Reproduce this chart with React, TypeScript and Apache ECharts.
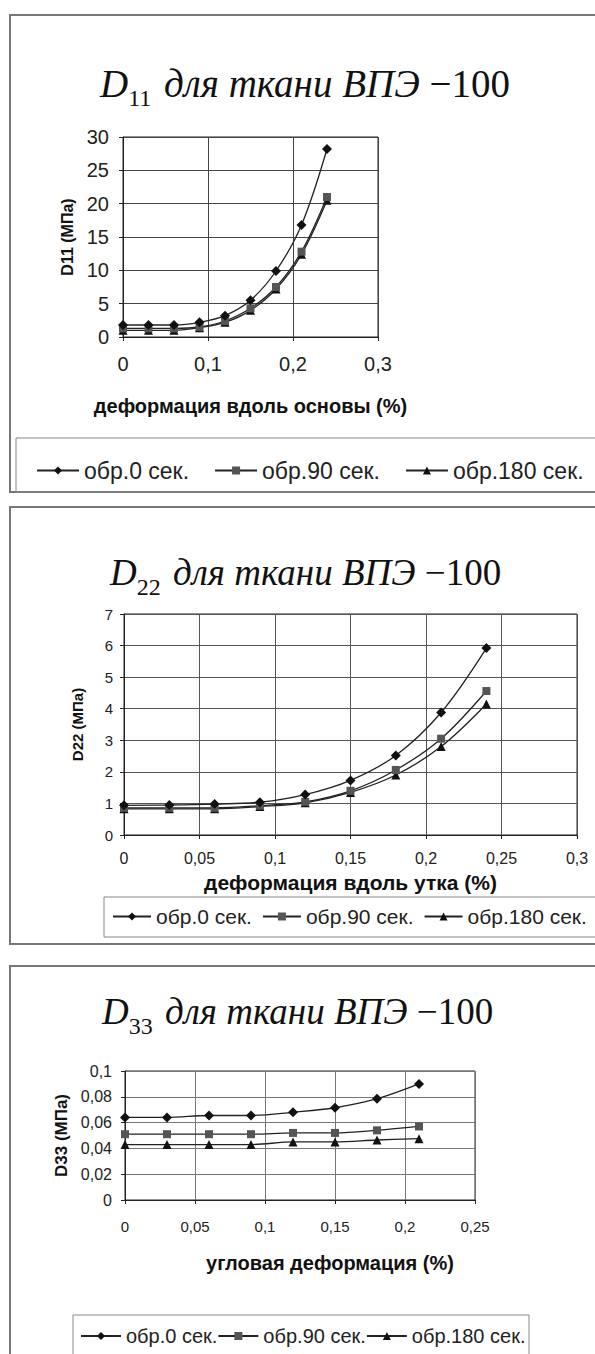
import React, { useEffect, useRef } from "react";
import * as echarts from "echarts";

const seriesNames = ["обр.0 сек.", "обр.90 сек.", "обр.180 сек."];

const xVals12 = [0, 0.03, 0.06, 0.09, 0.12, 0.15, 0.18, 0.21, 0.24];
const d11_0 = [1.8, 1.8, 1.8, 2.2, 3.2, 5.5, 9.9, 16.8, 28.2];
const d11_90 = [1.3, 1.3, 1.3, 1.5, 2.4, 4.3, 7.5, 12.8, 21.0];
const d11_180 = [1.0, 1.0, 1.0, 1.4, 2.2, 4.0, 7.2, 12.4, 20.5];

const d22_0 = [0.94, 0.95, 0.98, 1.04, 1.28, 1.73, 2.52, 3.88, 5.92];
const d22_90 = [0.86, 0.86, 0.86, 0.93, 1.05, 1.4, 2.06, 3.05, 4.56];
const d22_180 = [0.83, 0.83, 0.83, 0.9, 1.02, 1.35, 1.9, 2.8, 4.15];

const xVals3 = [0, 0.03, 0.06, 0.09, 0.12, 0.15, 0.18, 0.21];
const d33_0 = [0.064, 0.064, 0.0655, 0.0655, 0.068, 0.0715, 0.0785, 0.09];
const d33_90 = [0.051, 0.051, 0.051, 0.051, 0.052, 0.052, 0.054, 0.057];
const d33_180 = [0.043, 0.043, 0.043, 0.043, 0.045, 0.045, 0.0465, 0.0475];

const titles = [
  { sub: "11", x: 100, y: 56, fs: 39 },
  { sub: "22", x: 110, y: 545, fs: 37 },
  { sub: "33", x: 102, y: 984, fs: 37 },
];

const SANS = "Liberation Sans";
const SERIF = "Liberation Serif";

const fmt = (v: number) => String(+v.toFixed(4)).replace(".", ",");

export default function App() {
  const ref = useRef<HTMLDivElement>(null);
  useEffect(() => {
    if (!ref.current) return;
    const chart = echarts.init(ref.current, null, { renderer: "svg" });

    const grids = [
      { left: 123, top: 137, width: 255, height: 200 },
      { left: 124, top: 614, width: 453, height: 221 },
      { left: 125, top: 1071, width: 350, height: 129 },
    ];
    const gridColors = ["#444", "#555", "#777"];

    const xAxes = [
      { min: 0, max: 0.3, interval: 0.1, name: "деформация вдоль основы (%)", nameGap: 59, labelMargin: 17, fs: 20, nameFs: 20, pad: [0, 0, 0, 0] },
      { min: 0, max: 0.3, interval: 0.05, name: "деформация вдоль утка (%)", nameGap: 37, labelMargin: 15, fs: 16, nameFs: 21, pad: [0, 0, 0, 0] },
      { min: 0, max: 0.25, interval: 0.05, name: "угловая деформация (%)", nameGap: 53, labelMargin: 19, fs: 15, nameFs: 20, pad: [0, 0, 0, 60] },
    ].map((a, i) => ({
      type: "value",
      gridIndex: i,
      min: a.min,
      max: a.max,
      interval: a.interval,
      name: a.name,
      nameLocation: "middle",
      nameGap: a.nameGap,
      nameTextStyle: { fontFamily: SANS, fontWeight: "bold", fontSize: a.nameFs, color: "#111", padding: a.pad },
      axisLine: { show: true, lineStyle: { color: "#222", width: 1 } },
      axisTick: { show: true, length: 4, lineStyle: { color: "#222" } },
      axisLabel: { fontFamily: SANS, fontSize: a.fs, color: "#222", margin: a.labelMargin, formatter: fmt },
      splitLine: { show: true, lineStyle: { color: gridColors[i], width: 1 } },
    }));

    const yAxes = [
      { min: 0, max: 30, interval: 5, name: "D11 (МПа)", nameGap: 48, labelMargin: 14, fs: 20, nameFs: 16 },
      { min: 0, max: 7, interval: 1, name: "D22 (МПа)", nameGap: 39, labelMargin: 11, fs: 15, nameFs: 15 },
      { min: 0, max: 0.1, interval: 0.02, name: "D33 (МПа)", nameGap: 55, labelMargin: 13, fs: 16, nameFs: 17 },
    ].map((a, i) => ({
      type: "value",
      gridIndex: i,
      min: a.min,
      max: a.max,
      interval: a.interval,
      name: a.name,
      nameLocation: "middle",
      nameRotate: 90,
      nameGap: a.nameGap,
      nameTextStyle: { fontFamily: SANS, fontWeight: "bold", fontSize: a.nameFs, color: "#111" },
      axisLine: { show: true, lineStyle: { color: "#222", width: 1 } },
      axisTick: { show: true, length: 4, lineStyle: { color: "#222" } },
      axisLabel: { fontFamily: SANS, fontSize: a.fs, color: "#222", margin: a.labelMargin, formatter: fmt },
      splitLine: { show: true, lineStyle: { color: gridColors[i], width: 1 } },
    }));

    const panels = [
      { xs: xVals12, ys: [d11_0, d11_90, d11_180] },
      { xs: xVals12, ys: [d22_0, d22_90, d22_180] },
      { xs: xVals3, ys: [d33_0, d33_90, d33_180] },
    ];
    const symbols = ["diamond", "rect", "triangle"];
    const symSizes = [10, 8, 9];
    const symColors = ["#111", "#555", "#111"];

    const series: any[] = [];
    panels.forEach((p, pi) => {
      p.ys.forEach((ys, si) => {
        series.push({
          type: "line",
          name: seriesNames[si],
          xAxisIndex: pi,
          yAxisIndex: pi,
          data: p.xs.map((x, k) => [x, ys[k]]),
          smooth: 0.35,
          symbol: symbols[si],
          symbolSize: symSizes[si],
          showSymbol: true,
          lineStyle: { color: "#222", width: 1.3 },
          itemStyle: { color: symColors[si], borderWidth: 0 },
          z: 3 - si,
        });
      });
    });

    const legendBase = {
      data: seriesNames,
      orient: "horizontal",
      padding: 0,
      itemHeight: 10,
      selectedMode: false,
    };

    const legends = [
      { ...legendBase, left: 36, top: 459, itemGap: 25, itemWidth: 42, textStyle: { fontFamily: SANS, fontSize: 23, color: "#222" } },
      { ...legendBase, left: 112, top: 906, itemGap: 10, itemWidth: 38, textStyle: { fontFamily: SANS, fontSize: 21, color: "#222" } },
      { ...legendBase, left: 80, top: 1326, itemGap: 0, itemWidth: 40, textStyle: { fontFamily: SANS, fontSize: 20, color: "#222" } },
    ];

    const rect = (x: number, y: number, w: number, h: number, color: string, lw: number) => ({
      type: "rect",
      shape: { x, y, width: w, height: h },
      style: { fill: "none", stroke: color, lineWidth: lw },
      silent: true,
      z: -1,
    });

    const titleGraphics = titles.map((t) => ({
      type: "text",
      x: t.x,
      y: t.y,
      style: {
        text: `{i|D}{s|${t.sub}}{i| для ткани ВПЭ}{n| −100}`,
        rich: {
          i: { fontFamily: SERIF, fontStyle: "italic", fontSize: t.fs, fill: "#111" },
          s: { fontFamily: SERIF, fontSize: 24, fill: "#111", padding: [30, 3, 0, 0] },
          n: { fontFamily: SERIF, fontSize: t.fs, fill: "#111" },
        },
      },
    }));

    chart.setOption({
      animation: false,
      backgroundColor: "#fff",
      grid: grids.map((g) => ({ ...g, show: true, borderColor: "#222", borderWidth: 1, backgroundColor: "transparent" })),
      xAxis: xAxes,
      yAxis: yAxes,
      series,
      legend: legends,
      graphic: [
        rect(10, 15, 600, 477, "#777", 2),
        rect(16, 438, 600, 54, "#888", 1),
        rect(10, 507, 600, 437, "#777", 2),
        rect(104, 897, 500, 40, "#888", 1),
        rect(10, 966, 600, 500, "#777", 2),
        rect(73, 1315, 456, 40, "#888", 1),
        ...titleGraphics,
      ],
    });
    return () => chart.dispose();
  }, []);
  return (
    <div
      ref={ref}
      style={{ position: "absolute", left: 0, top: 0, width: 595, height: 1354, background: "#fff" }}
    />
  );
}
